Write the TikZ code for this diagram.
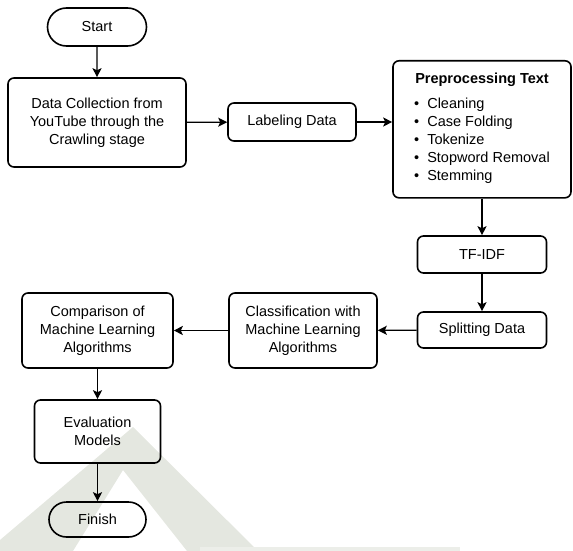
\documentclass[tikz,border=0pt]{standalone}
\usepackage{fontspec}
\setmainfont{Liberation Sans}
\usetikzlibrary{shapes.misc,arrows.meta,positioning}
\definecolor{wmark}{RGB}{228,231,224}

\begin{document}
\begin{tikzpicture}[x=1pt, y=-1pt,
    font=\fontsize{14.5}{18}\selectfont,
    box/.style = {draw, rounded corners=6pt, line width=1.6pt, align=center, inner sep=2pt},
    term/.style = {draw, rounded rectangle, line width=1.6pt, inner sep=2pt},
    arr/.style = {-{Stealth[length=9pt,width=9pt,inset=2pt]}, line width=1.3pt}]
    \useasboundingbox (0,0) rectangle (573,551);
    % faint watermark in the background
    \fill[wmark] (0,540) -- (133,427) -- (258,551) -- (187,551) -- (123,470) -- (73,551) -- (0,551) -- cycle;
    \fill[wmark!70!white] (200,547) rectangle (460,551);
    % flow
    \node[term, minimum width=103, minimum height=38] (start) at (97,27) {Start};
    \node[box, minimum width=178, minimum height=89] (collect) at (97,122.5) {Data Collection from\\YouTube through the\\Crawling stage};
    \node[box, minimum width=128, minimum height=38] (label) at (292,122) {Labeling Data};
    \node[box, minimum width=178, minimum height=137, anchor=north] (prep) at (482,60) {%
        \textbf{Preprocessing Text}\\[9pt]
        \begin{tabular}{@{}l@{\hspace{8pt}}l@{}}
        \textbullet & Cleaning\\
        \textbullet & Case Folding\\
        \textbullet & Tokenize\\
        \textbullet & Stopword Removal\\
        \textbullet & Stemming
        \end{tabular}};
    \node[box, minimum width=129, minimum height=37] (tfidf) at (482,254.5) {TF-IDF};
    \node[box, minimum width=129, minimum height=36] (split) at (482,330) {Splitting Data};
    \node[box, minimum width=148, minimum height=75] (classify) at (303,330.5) {Classification with\\Machine Learning\\Algorithms};
    \node[box, minimum width=151, minimum height=75] (compare) at (97.5,330.5) {Comparison of\\Machine Learning\\Algorithms};
    \node[box, minimum width=126, minimum height=63] (eval) at (97.5,431.5) {Evaluation\\Models};
    \node[term, minimum width=101, minimum height=35] (finish) at (97.5,519.5) {Finish};
    \draw[arr] (start) -- (collect);
    \draw[arr] (collect) -- (label);
    \draw[arr] (label) -- (label -| prep.west);
    \draw[arr] (prep) -- (tfidf);
    \draw[arr] (tfidf) -- (split);
    \draw[arr] (split) -- (classify);
    \draw[arr] (classify) -- (compare);
    \draw[arr] (compare) -- (eval);
    \draw[arr] (eval) -- (finish);
\end{tikzpicture}
\end{document}
